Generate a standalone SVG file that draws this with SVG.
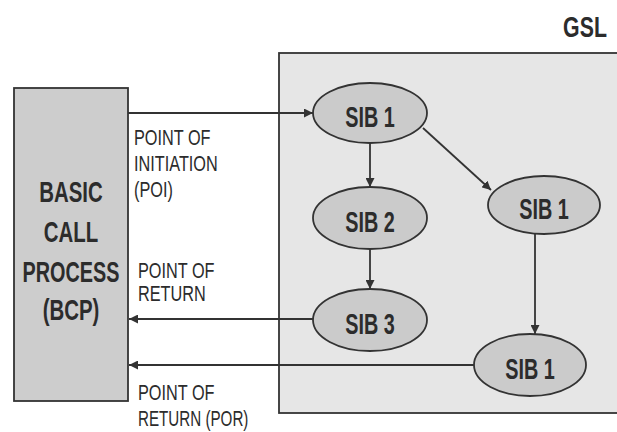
<svg xmlns="http://www.w3.org/2000/svg" width="617" height="432" viewBox="0 0 617 432">
  <style>
    .frame { fill: #e6e6e6; stroke: #333; stroke-width: 1.8; }
    .bcp { fill: #cdcdcd; stroke: #333; stroke-width: 1.8; }
    .sib { fill: #cbcbcb; stroke: #333; stroke-width: 1.8; }
    .edge { fill: none; stroke: #333; stroke-width: 1.8; }
    .big { font-family: "Liberation Sans", Arial, sans-serif; font-size: 30px; font-weight: bold; fill: #2c2c2c; text-anchor: middle; }
    .sibt { font-family: "Liberation Sans", Arial, sans-serif; font-size: 30px; font-weight: bold; fill: #2c2c2c; text-anchor: middle; }
    .lbl { font-family: "Liberation Sans", Arial, sans-serif; font-size: 22px; fill: #2c2c2c; }
  </style>
  <defs>
    <marker id="arrow" viewBox="0 0 10 10" refX="10" refY="5" markerWidth="9" markerHeight="9" markerUnits="userSpaceOnUse" orient="auto">
      <path d="M0,0 L10,5 L0,10 z" fill="#333"/>
    </marker>
  </defs>

  <rect width="617" height="432" fill="#ffffff"/>

  <!-- GSL frame -->
  <g id="gsl">
    <rect class="frame" x="279" y="53" width="345" height="360"/>
    <text class="big" transform="translate(585,37) scale(0.71,1)">GSL</text>
  </g>

  <!-- Basic call process block -->
  <g id="bcp">
    <rect class="bcp" x="14" y="88" width="114" height="313"/>
    <text class="big" transform="translate(71,202) scale(0.68,1)">BASIC</text>
    <text class="big" transform="translate(71,242) scale(0.68,1)">CALL</text>
    <text class="big" transform="translate(71,282) scale(0.66,1)">PROCESS</text>
    <text class="big" transform="translate(71,320) scale(0.68,1)">(BCP)</text>
  </g>

  <!-- connectors -->
  <g id="connectors">
    <line class="edge" x1="128" y1="113" x2="313" y2="113" marker-end="url(#arrow)"/>
    <line class="edge" x1="370" y1="144" x2="370" y2="187" marker-end="url(#arrow)"/>
    <line class="edge" x1="423" y1="128" x2="491" y2="190" marker-end="url(#arrow)"/>
    <line class="edge" x1="370" y1="249" x2="370" y2="289" marker-end="url(#arrow)"/>
    <line class="edge" x1="535" y1="234" x2="535" y2="334" marker-end="url(#arrow)"/>
    <line class="edge" x1="313" y1="319" x2="129" y2="319" marker-end="url(#arrow)"/>
    <line class="edge" x1="474" y1="365" x2="129" y2="365" marker-end="url(#arrow)"/>
  </g>

  <!-- connector labels -->
  <g id="labels">
    <text class="lbl" transform="translate(134,145) scale(0.74,1)">POINT OF</text>
    <text class="lbl" transform="translate(134,171) scale(0.74,1)">INITIATION</text>
    <text class="lbl" transform="translate(134,197) scale(0.74,1)">(POI)</text>
    <text class="lbl" transform="translate(138,278) scale(0.74,1)">POINT OF</text>
    <text class="lbl" transform="translate(138,301) scale(0.74,1)">RETURN</text>
    <text class="lbl" transform="translate(138,400) scale(0.74,1)">POINT OF</text>
    <text class="lbl" transform="translate(138,426) scale(0.69,1)">RETURN (POR)</text>
  </g>

  <!-- service independent building blocks -->
  <g id="sib1-top">
    <ellipse class="sib" cx="370" cy="113" rx="57" ry="30"/>
    <text class="sibt" transform="translate(370,127) scale(0.66,1)">SIB 1</text>
  </g>
  <g id="sib2">
    <ellipse class="sib" cx="370" cy="218" rx="57" ry="31"/>
    <text class="sibt" transform="translate(370,232) scale(0.66,1)">SIB 2</text>
  </g>
  <g id="sib3">
    <ellipse class="sib" cx="370" cy="320" rx="57" ry="31"/>
    <text class="sibt" transform="translate(370,334) scale(0.66,1)">SIB 3</text>
  </g>
  <g id="sib1-right">
    <ellipse class="sib" cx="544" cy="205" rx="56" ry="29"/>
    <text class="sibt" transform="translate(544,219) scale(0.66,1)">SIB 1</text>
  </g>
  <g id="sib1-bottom">
    <ellipse class="sib" cx="530" cy="365" rx="56" ry="31"/>
    <text class="sibt" transform="translate(530,379) scale(0.66,1)">SIB 1</text>
  </g>
</svg>
